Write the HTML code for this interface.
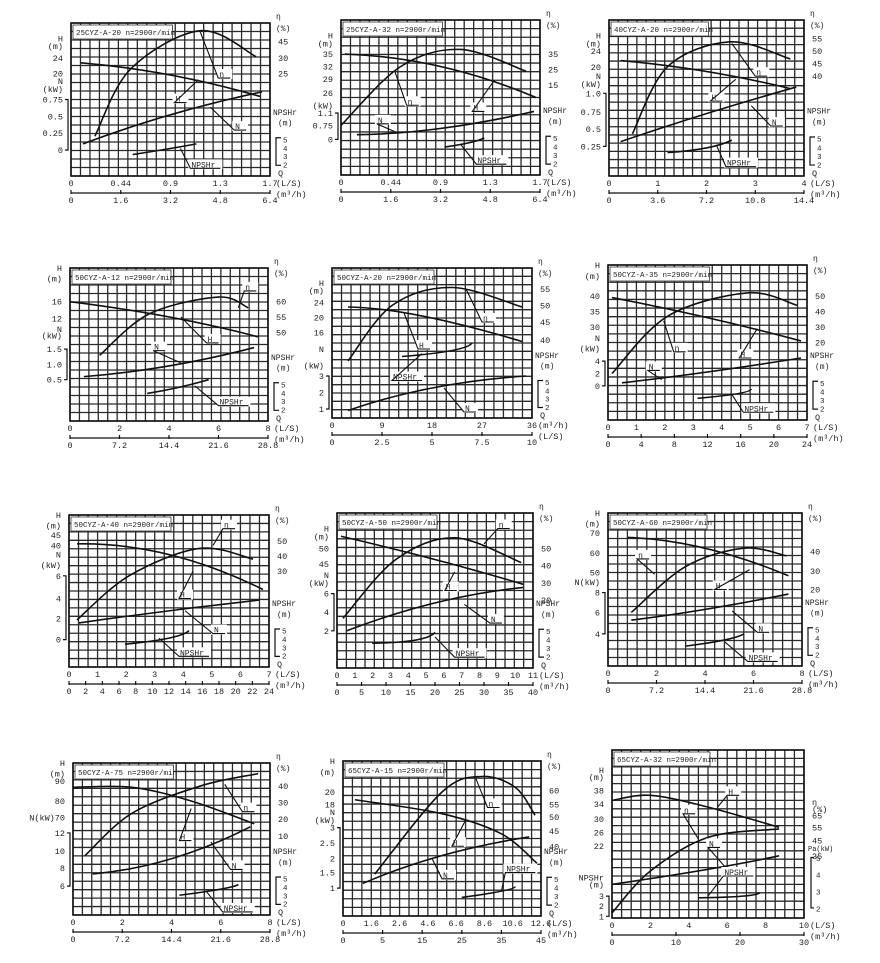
<!DOCTYPE html>
<html><head><meta charset="utf-8"><style>
html,body{margin:0;padding:0;background:#fff;}
svg{display:block;}
text{font-family:"Liberation Mono","DejaVu Sans Mono",monospace;fill:#222;}
</style></head><body>
<svg id="s" width="880" height="963" viewBox="0 0 880 963" xmlns="http://www.w3.org/2000/svg"></svg>
<script>
var P=[
{b:[71,23,270,176],t:"25CYZ-A-20 n=2900r/min",x1:["0","0.44","0.9","1.3","1.7"],x2:["0","1.6","3.2","4.8","6.4"],
L:[[.1,"H"],[.15,"(m)"],[.23,"24"],[.33,"20"],[.38,"N"],[.43,"(kW)"],[.5,"0.75"],[.61,"0.5"],[.72,"0.25"],[.83,"0"]],br:[.5,.83],
R:[[.23,"30"],[.33,"25"],[.12,"45"]],
H:[[.05,.26],[.5,.34],[.95,.48]],E:[[.12,.74],[.3,.3],[.65,.05],[.93,.22]],N:[[.06,.79],[.5,.6],[.96,.45]],S:[[.31,.86],[.5,.82],[.63,.79]],
lab:{E:[.65,.06,.74,.36],H:[.64,.37,.52,.52],N:[.7,.55,.82,.7],S:[.55,.82,.6,.95]}},
{b:[341,20,540,175],t:"25CYZ-A-32 n=2900r/min",x1:["0","0.44","0.9","1.3","1.7"],x2:["0","1.6","3.2","4.8","6.4"],
L:[[.1,"H"],[.15,"(m)"],[.22,"35"],[.3,"32"],[.38,"29"],[.47,"26"],[.55,"(kW)"],[.6,"1.1"],[.68,"0.75"],[.77,"0"]],br:[.6,.77],
R:[[.22,"35"],[.32,"25"],[.42,"15"]],
H:[[.02,.22],[.5,.3],[.98,.5]],E:[[0,.68],[.3,.3],[.6,.19],[.93,.33]],N:[[.08,.74],[.5,.7],[.97,.59]],S:[[.52,.82],[.65,.79],[.72,.76]],
lab:{E:[.27,.33,.33,.55],H:[.77,.39,.66,.59],N:[.27,.72,.18,.67],S:[.6,.8,.68,.93]}},
{b:[609,20,804,176],t:"40CYZ-A-20 n=2900r/min",x1:["0","1","2","3","4"],x2:["0","3.6","7.2","10.8","14.4"],
L:[[.1,"H"],[.15,"(m)"],[.2,"24"],[.3,"20"],[.36,"N"],[.41,"(kW)"],[.47,"1.0"],[.59,"0.75"],[.7,"0.5"],[.81,"0.25"]],br:[.47,.81],
R:[[.12,"55"],[.2,"50"],[.28,"45"],[.36,"40"]],
H:[[.06,.26],[.5,.33],[.93,.44]],E:[[.12,.73],[.3,.3],[.62,.14],[.93,.25]],N:[[.06,.78],[.5,.6],[.96,.43]],S:[[.3,.85],[.5,.82],[.63,.77]],
lab:{E:[.63,.15,.75,.36],H:[.65,.38,.52,.52],N:[.73,.55,.83,.68],S:[.55,.8,.6,.94]}},
{b:[70,268,268,421],t:"50CYZ-A-12 n=2900r/min",x1:["0","2","4","6","8"],x2:["0","7.2","14.4","21.6","28.8"],
L:[[.0,"H"],[.07,"(m)"],[.22,"16"],[.33,"12"],[.4,"N"],[.44,"(kW)"],[.53,"1.5"],[.63,"1.0"],[.73,"0.5"]],br:[.53,.73],
R:[[.22,"60"],[.32,"55"],[.42,"50"]],
H:[[0,.22],[.5,.32],[.95,.45]],E:[[.15,.57],[.4,.3],[.75,.19],[.9,.26]],N:[[.07,.71],[.5,.64],[.93,.52]],S:[[.39,.82],[.55,.78],[.7,.73]],
lab:{E:[.85,.26,.88,.15],H:[.56,.32,.69,.49],N:[.56,.62,.42,.54],S:[.63,.77,.75,.9]}},
{b:[332,268,532,418],t:"50CYZ-A-20 n=2900r/min",x1:["0","9","18","27","36"],x2:["0","2.5","5","7.5","10"],
L:[[.1,"H"],[.15,"(m)"],[.23,"24"],[.33,"20"],[.43,"16"],[.54,"N"],[.65,"(kW)"],[.72,"3"],[.83,"2"],[.94,"1"]],br:[.72,.94],
R:[[.14,"55"],[.25,"50"],[.36,"45"],[.48,"40"]],
H:[[.08,.26],[.45,.32],[.95,.49]],E:[[.08,.62],[.3,.25],[.6,.13],[.95,.26]],N:[[.08,.95],[.5,.8],[.97,.72]],S:[[.35,.59],[.6,.55],[.7,.5]],
lab:{E:[.67,.14,.75,.36],H:[.36,.3,.43,.54],N:[.56,.8,.66,.96],S:[.45,.57,.3,.75]}},
{b:[608,265,807,420],t:"50CYZ-A-35 n=2900r/min",x1:["0","1","2","3","4","5","6","7"],x2:["0","4","8","12","16","20","24"],
L:[[.0,"H"],[.07,"(m)"],[.2,"40"],[.3,"35"],[.4,"30"],[.47,"N"],[.54,"(kW)"],[.62,"4"],[.7,"2"],[.78,"0"]],br:[.62,.78],
R:[[.2,"50"],[.3,"40"],[.4,"30"],[.5,"20"]],
H:[[.02,.21],[.5,.34],[.97,.49]],E:[[.02,.7],[.3,.33],[.7,.18],[.95,.26]],N:[[.07,.76],[.5,.69],[.97,.6]],S:[[.45,.86],[.65,.83],[.72,.8]],
lab:{E:[.28,.36,.33,.56],H:[.75,.41,.66,.6],N:[.27,.74,.2,.68],S:[.62,.83,.68,.95]}},
{b:[69,515,269,667],t:"50CYZ-A-40 n=2900r/min",x1:["0","1","2","3","4","5","6","7"],x2:["0","2","4","6","8","10","12","14","16","18","20","22","24"],
L:[[.0,"H"],[.07,"(m)"],[.13,"45"],[.2,"40"],[.26,"N"],[.33,"(kW)"],[.4,"6"],[.55,"4"],[.68,"2"],[.82,"0"]],br:[.4,.82],
R:[[.17,"50"],[.27,"40"],[.37,"30"]],
H:[[.04,.19],[.5,.26],[.97,.49]],E:[[.04,.69],[.3,.4],[.65,.22],[.92,.29]],N:[[.05,.71],[.5,.63],[.95,.56]],S:[[.28,.85],[.5,.81],[.6,.76]],
lab:{E:[.72,.2,.77,.09],H:[.62,.37,.55,.55],N:[.58,.63,.72,.78],S:[.45,.81,.55,.93]}},
{b:[337,513,533,668],t:"50CYZ-A-50 n=2900r/min",x1:["0","1","2","3","4","5","6","7","8","9","10","11"],x2:["0","5","10","15","20","25","30","35","40"],
L:[[.1,"H"],[.15,"(m)"],[.23,"50"],[.33,"45"],[.4,"N"],[.45,"(kW)"],[.52,"6"],[.64,"4"],[.76,"2"]],br:[.52,.76],
R:[[.23,"50"],[.34,"40"],[.45,"30"],[.56,"20"]],
H:[[.02,.15],[.5,.3],[.95,.46]],E:[[.03,.68],[.3,.3],[.6,.16],[.94,.32]],N:[[.05,.76],[.5,.58],[.95,.48]],S:[[.18,.84],[.4,.82],[.5,.77]],
lab:{E:[.75,.2,.82,.1],H:[.6,.38,.55,.5],N:[.65,.59,.78,.71],S:[.5,.8,.6,.93]}},
{b:[608,513,802,666],t:"50CYZ-A-60 n=2900r/min",x1:["0","2","4","6","8"],x2:["0","7.2","14.4","21.6","28.8"],
L:[[.0,"H"],[.07,"(m)"],[.13,"70"],[.26,"60"],[.39,"50"],[.45,"N(kW)"],[.52,"8"],[.65,"6"],[.79,"4"]],br:[.52,.79],
R:[[.25,"40"],[.38,"30"],[.5,"20"]],
H:[[.1,.16],[.5,.23],[.93,.41]],E:[[.12,.65],[.4,.35],[.7,.23],[.92,.28]],N:[[.12,.7],[.5,.63],[.93,.53]],S:[[.4,.87],[.6,.83],[.7,.79]],
lab:{E:[.24,.4,.15,.3],H:[.73,.37,.55,.5],N:[.64,.64,.77,.78],S:[.6,.84,.72,.97]}},
{b:[73,763,270,915],t:"50CYZ-A-75 n=2900r/min",x1:["0","2","4","6","8"],x2:["0","7.2","14.4","21.6","28.8"],
L:[[.0,"H"],[.07,"(m)"],[.12,"90"],[.25,"80"],[.36,"N(kW)70"],[.46,"12"],[.58,"10"],[.69,"8"],[.81,"6"]],br:[.46,.81],
R:[[.15,"40"],[.26,"30"],[.37,"20"],[.48,"10"]],
H:[[0,.16],[.3,.16],[.6,.25],[.92,.4]],E:[[.06,.61],[.3,.33],[.65,.15],[.94,.07]],N:[[.1,.73],[.5,.63],[.9,.42]],S:[[.54,.87],[.75,.83],[.84,.8]],
lab:{E:[.77,.14,.86,.32],H:[.6,.3,.54,.51],N:[.7,.52,.8,.7],S:[.68,.85,.76,.98]}},
{b:[343,761,541,916],t:"65CYZ-A-15 n=2900r/min",x1:["0","1.6","2.6","4.6","6.6","8.6","10.6","12.6"],x2:["0","5","15","25","35","45"],
L:[[.0,"H"],[.07,"(m)"],[.2,"20"],[.28,"18"],[.33,"N"],[.38,"(kW)"],[.43,"3"],[.53,"2.5"],[.63,"2"],[.72,"1.5"],[.82,"1"]],br:[.43,.82],
R:[[.19,"60"],[.28,"55"],[.36,"50"],[.45,"45"],[.55,"40"]],
H:[[.06,.25],[.5,.34],[.8,.47],[.98,.66]],E:[[.16,.73],[.5,.2],[.7,.1],[.87,.17],[.97,.35]],N:[[.1,.79],[.5,.61],[.94,.49]],S:[[.6,.88],[.8,.84],[.87,.81]],
lab:{E:[.67,.11,.73,.3],H:[.62,.38,.55,.55],N:[.45,.63,.5,.76],S:[.8,.84,.82,.72]}},
{b:[612,750,804,918],t:"65CYZ-A-32  n=2900r/min",x1:["0","2","4","6","8","10"],x2:["0","10","20","30"],
L:[[.12,"H"],[.16,"(m)"],[.24,"38"],[.32,"34"],[.41,"30"],[.49,"26"],[.57,"22"],[.76,"NPSHr"],[.8,"(m)"],[.87,"3"],[.93,"2"],[.99,"1"]],br:[.87,.99],
R:[[.31,"η"],[.35,"(%)"],[.39,"65"],[.46,"55"],[.54,"45"],[.63,"35"]],
H:[[0,.3],[.2,.27],[.5,.34],[.87,.46]],E:[[0,.97],[.2,.72],[.5,.52],[.87,.47]],N:[[0,.8],[.5,.71],[.87,.63]],S:[[.45,.88],[.68,.87],[.77,.85]],
lab:{E:[.45,.53,.37,.38],H:[.55,.34,.6,.27],N:[.6,.71,.5,.58],S:[.5,.87,.58,.75]}}
];
var o="";
function cr(pts,x0,y0,w,h){var p=pts.map(function(q){return [x0+q[0]*w,y0+q[1]*h];});
 if(p.length==3){var c=[2*p[1][0]-(p[0][0]+p[2][0])/2,2*p[1][1]-(p[0][1]+p[2][1])/2];
  return "M"+p[0]+" Q"+c+" "+p[2];}
 var d="M"+p[0];
 for(var i=0;i<p.length-1;i++){var a=p[i-1]||p[i],b=p[i],c=p[i+1],e=p[i+2]||c;
  d+=" C"+(b[0]+(c[0]-a[0])/6)+","+(b[1]+(c[1]-a[1])/6)+" "+(c[0]-(e[0]-b[0])/6)+","+(c[1]-(e[1]-b[1])/6)+" "+c[0]+","+c[1];}
 return d;}
function T(x,y,s,a,fs){o+='<text x="'+x+'" y="'+y+'" font-size="'+(fs||9)+'" text-anchor="'+(a||"start")+'">'+s+'</text>';}
P.forEach(function(p,k){
 var x0=p.b[0],y0=p.b[1],x1=p.b[2],y1=p.b[3],w=x1-x0,h=y1-y0;
 var nc=Math.round(w/9.5),nr=Math.round(h/8.4);
 for(var i=0;i<=nc;i++){var x=x0+i*w/nc;o+='<line x1="'+x+'" y1="'+y0+'" x2="'+x+'" y2="'+y1+'" stroke="#2a2a2a" stroke-width="1.3"/>';}
 for(var j=0;j<=nr;j++){var y=y0+j*h/nr;o+='<line x1="'+x0+'" y1="'+y+'" x2="'+x1+'" y2="'+y+'" stroke="#2a2a2a" stroke-width="1.3"/>';}
 o+='<rect x="'+x0+'" y="'+y0+'" width="'+w+'" height="'+h+'" fill="none" stroke="#111" stroke-width="1.6"/>';
 o+='<rect x="'+(x0+2)+'" y="'+(y0+2)+'" width="'+(w*0.5)+'" height="14" fill="#fff" stroke="#333" stroke-width="0.8"/>';
 T(x0+5,y0+12,p.t,"start",7.5);
 ["H","E","N","S"].forEach(function(c){o+='<path d="'+cr(p[c],x0,y0,w,h)+'" fill="none" stroke="#111" stroke-width="1.6"/>';
  var l=p.lab[c];if(l){var ax=x0+l[0]*w,ay=y0+l[1]*h,bx=x0+l[2]*w,by=y0+l[3]*h;
   var nm={H:"H",E:"η",N:"N",S:"NPSHr"}[c];var lw=c=="S"?30:12;
   o+='<rect x="'+(bx-2)+'" y="'+(by-9)+'" width="'+(lw+4)+'" height="10" fill="#fff"/>';
   o+='<polyline points="'+ax+','+ay+' '+bx+','+by+' '+(bx+lw)+','+by+'" fill="none" stroke="#111" stroke-width="1.1"/>';
   T(bx+1,by-1,nm,"start",8);}});
 // left labels
 p.L.forEach(function(l){T(x0-8,y0+l[0]*h+3,l[1],"end",8.5);});
 var b1=y0+p.br[0]*h,b2=y0+p.br[1]*h;
 o+='<polyline points="'+(x0-6)+','+b1+' '+(x0-3)+','+b1+' '+(x0-3)+','+b2+' '+(x0-6)+','+b2+'" fill="none" stroke="#111" stroke-width="1.2"/>';
 // right labels
 if(k!=11){T(x1+6,y0-4,"η","start",8);T(x1+6,y0+8,"(%)","start",8);}
 p.R.forEach(function(l){T(x1+8,y0+l[0]*h+3,l[1],"start",8.5);});
 var ry=k==11?0.63:0.77;
 if(k==11){T(x1+4,y0+.6*h,"Pa(kW)","start",7);["5","4","3","2"].forEach(function(s,i){T(x1+12,y0+(.66+i*.1)*h,s,"start",7.5);});
  o+='<polyline points="'+(x1+10)+','+(y0+.64*h)+' '+(x1+7)+','+(y0+.64*h)+' '+(x1+7)+','+(y0+.94*h)+' '+(x1+10)+','+(y0+.94*h)+'" fill="none" stroke="#111" stroke-width="1.2"/>';}
 else{T(x1+3,y0+.6*h,"NPSHr","start",8);T(x1+8,y0+.67*h,"(m)","start",8);
  ["5","4","3","2"].forEach(function(s,i){T(x1+13,y0+(.78+i*.055)*h,s,"start",7.5);});
  o+='<polyline points="'+(x1+11)+','+(y0+.75*h)+' '+(x1+6)+','+(y0+.75*h)+' '+(x1+6)+','+(y0+.93*h)+' '+(x1+11)+','+(y0+.93*h)+'" fill="none" stroke="#111" stroke-width="1.2"/>';
  T(x1+8,y1,"Q","start",8.5);}
 // x axes
 var yA=y1+10,yB=y1+17;
 p.x1.forEach(function(s,i){T(x0+i*w/(p.x1.length-1),yA,s,"middle",8.5);});
 T(x1+6,yA,k==4?"(m³/h)":"(L/S)","start",8.5);
 o+='<line x1="'+x0+'" y1="'+yB+'" x2="'+x1+'" y2="'+yB+'" stroke="#111" stroke-width="1.3"/>';
 p.x2.forEach(function(s,i){var x=x0+i*w/(p.x2.length-1);o+='<line x1="'+x+'" y1="'+(yB-3)+'" x2="'+x+'" y2="'+(yB+1)+'" stroke="#111" stroke-width="1.2"/>';T(x,yB+10,s,"middle",8.5);});
 T(x1+6,yB+4,k==4?"(L/S)":"(m³/h)","start",8.5);
});
document.getElementById("s").innerHTML=o;
</script>
</body></html>
